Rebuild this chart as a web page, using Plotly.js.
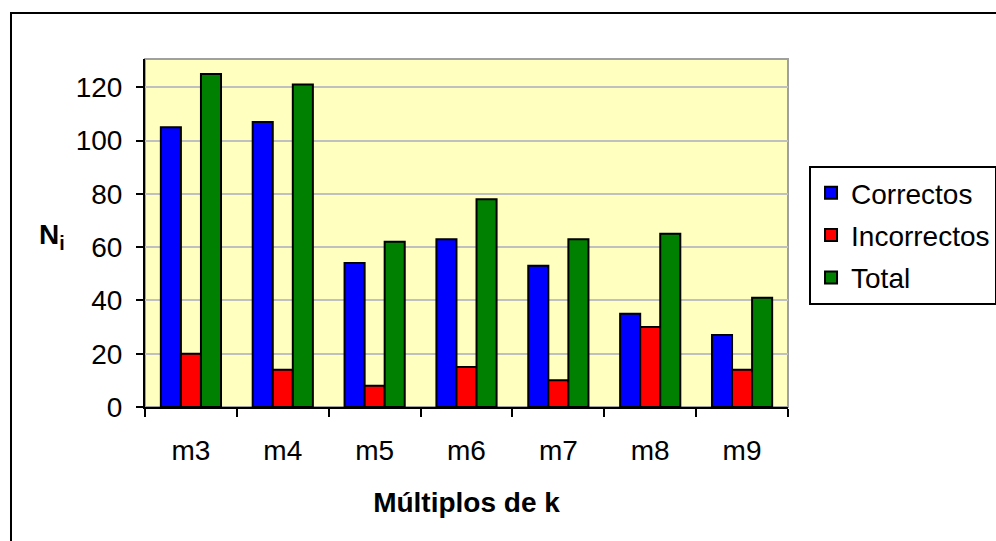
<!DOCTYPE html>
<html>
<head>
<meta charset="utf-8">
<script src="https://cdn.plot.ly/plotly-3.0.1.min.js"></script>
<style>
  html, body { margin: 0; padding: 0; background: #ffffff; }
  #chart { width: 996px; height: 541px; }
</style>
</head>
<body>
<div id="chart"></div>
<script>
const categories = ["m3", "m4", "m5", "m6", "m7", "m8", "m9"];
const correctos = [105, 107, 54, 63, 53, 35, 27];
const incorrectos = [20, 14, 8, 15, 10, 30, 14];
const total = [125, 121, 62, 78, 63, 65, 41];
const seriesNames = ["Correctos", "Incorrectos", "Total"];
const seriesColors = ["#0000FF", "#FF0000", "#008000"];
const yTicks = [0, 20, 40, 60, 80, 100, 120];

const FONT = "Arial, 'Liberation Sans', sans-serif";

const traces = [correctos, incorrectos, total].map((vals, i) => ({
  type: "bar",
  name: seriesNames[i],
  legendgroup: "g" + i,
  x: categories,
  y: vals,
  marker: { color: seriesColors[i], line: { color: "#000000", width: 2 } },
  hoverinfo: "x+y+name"
}));

const layout = {
  width: 996,
  height: 541,
  margin: { l: 145, r: 208, t: 59, b: 134, autoexpand: false },
  paper_bgcolor: "#ffffff",
  plot_bgcolor: "#FFFFC0",
  barmode: "group",
  bargap: 0.345,
  bargroupgap: 0,
  font: { family: FONT, size: 28, color: "#000000" },
  showlegend: true,
  legend: {
    x: 1.0327, xanchor: "left",
    y: (407 - 166) / 348, yanchor: "top",
    bgcolor: "#ffffff",
    bordercolor: "#000000",
    borderwidth: 2,
    font: { family: FONT, size: 28, color: "#000000" },
    itemwidth: 30,
    traceorder: "grouped",
    tracegroupgap: 3
  },
  xaxis: {
    type: "category",
    showline: true, linecolor: "#000000", linewidth: 2,
    ticks: "outside", tickson: "boundaries", ticklen: 8, tickwidth: 2, tickcolor: "#000000",
    ticklabelstandoff: 17,
    tickfont: { family: FONT, size: 28, color: "#000000" },
    showgrid: false,
    zeroline: false,
    title: { text: "<b>Múltiplos de k</b>", font: { family: FONT, size: 28, color: "#000000" }, standoff: 28 }
  },
  yaxis: {
    range: [0, 130.6],
    tickvals: yTicks,
    ticktext: yTicks.map(String),
    showline: true, linecolor: "#000000", linewidth: 2,
    ticks: "outside", ticklen: 7, tickwidth: 2, tickcolor: "#000000",
    ticklabelstandoff: 8,
    tickfont: { family: FONT, size: 28, color: "#000000" },
    showgrid: true, gridcolor: "#C0C0C0", gridwidth: 2,
    zeroline: false
  },
  annotations: [
    { text: "<b>N<sub>i</sub></b>", xref: "paper", yref: "paper",
      x: (52 - 145) / 643, y: (407 - 236) / 348, xanchor: "center", yanchor: "middle",
      showarrow: false, font: { family: FONT, size: 28, color: "#000000" } }
  ],
  shapes: [
    { type: "rect", xref: "paper", yref: "paper", x0: 0, x1: 1, y0: 0, y1: 1,
      line: { color: "#A0A0A0", width: 2 }, fillcolor: "rgba(0,0,0,0)", layer: "below" },
    { type: "rect", xref: "paper", yref: "paper", x0: -0.2084, x1: 2, y0: -1, y1: 1.1322,
      line: { color: "#000000", width: 2 }, fillcolor: "rgba(0,0,0,0)", layer: "above" }
  ]
};

Plotly.newPlot("chart", traces, layout, { displayModeBar: false, staticPlot: true });
</script>
</body>
</html>
